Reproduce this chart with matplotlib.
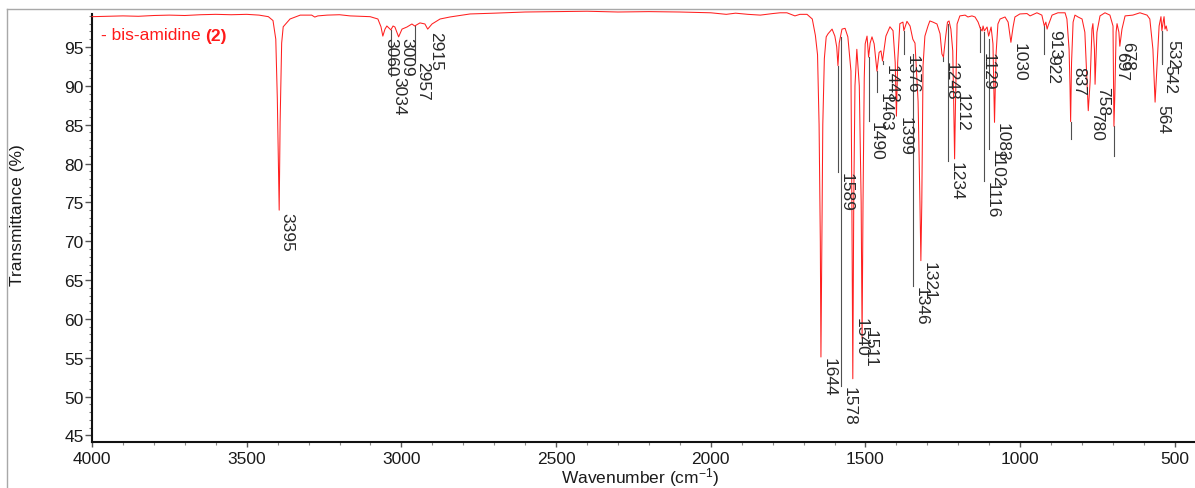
import matplotlib
matplotlib.use("Agg")
import matplotlib.pyplot as plt
from matplotlib.ticker import MultipleLocator
from matplotlib.lines import Line2D
from matplotlib.transforms import offset_copy

plt.rcParams['font.family'] = ['Liberation Sans', 'DejaVu Sans']
plt.rcParams['mathtext.default'] = 'regular'

# spectrum: (wavenumber cm-1, transmittance %)
trace_high = [
    (4000, 98.9), (3950, 98.95), (3900, 99.0), (3850, 98.95), (3800, 99.05), (3750, 99.1),
    (3700, 99.05), (3650, 99.15), (3600, 99.2), (3550, 99.15), (3500, 99.2), (3460, 99.1),
    (3430, 98.9), (3415, 98.4), (3406, 96.0), (3401, 88.3), (3395, 74.0), (3392, 85.3),
    (3387, 95.5), (3382, 97.6), (3360, 98.6), (3327, 99.1), (3290, 99.1), (3280, 98.85),
    (3270, 99.0), (3240, 99.1), (3200, 99.15), (3166, 99.0), (3101, 98.9), (3076, 98.6),
    (3066, 97.6), (3060, 96.4), (3053, 97.3), (3047, 97.7), (3034, 97.2), (3027, 97.7),
    (3021, 97.57), (3009, 96.3), (2998, 97.3), (2982, 97.57), (2966, 97.96), (2957, 97.7),
    (2940, 98.1), (2924, 97.96), (2915, 97.3), (2901, 97.96), (2875, 98.6), (2843, 98.86),
    (2778, 99.25),
]
trace_mid = [
    (2700, 99.35), (2600, 99.5), (2500, 99.55), (2400, 99.6), (2300, 99.5), (2200, 99.55),
    (2100, 99.5), (2000, 99.4), (1950, 99.2), (1920, 99.35), (1880, 99.2), (1840, 99.1),
    (1800, 99.3), (1776, 99.4), (1754, 99.4), (1728, 99.0), (1712, 99.2), (1689, 99.2),
]
trace_fingerprint = [
    (1672, 98.6), (1662, 96.5), (1655, 94.0), (1650, 85.0), (1646, 70.0), (1644, 55.1),
    (1641, 70.0), (1638, 85.0), (1633, 93.5), (1627, 96.3), (1621, 96.7), (1608, 97.3),
    (1599, 96.4), (1593, 95.0), (1589, 92.6), (1585, 95.5), (1576, 97.3), (1566, 97.4),
    (1557, 96.3), (1547, 91.9), (1544, 75.0), (1541, 52.3), (1538, 75.0), (1534, 90.0),
    (1528, 94.7), (1520, 90.0), (1514, 75.0), (1511, 57.5), (1508, 75.0), (1504, 91.0),
    (1501, 95.4), (1495, 96.4), (1490, 93.7), (1485, 95.5), (1479, 96.3), (1472, 95.4),
    (1463, 91.9), (1456, 94.3), (1450, 94.5), (1445, 93.2), (1434, 96.4), (1421, 97.6),
    (1411, 97.1), (1404, 93.0), (1400, 86.1), (1396, 93.0), (1389, 98.0), (1379, 98.2),
    (1376, 97.1), (1366, 98.3), (1356, 97.7), (1347, 96.0), (1340, 95.5), (1330, 88.0),
    (1324, 75.0), (1321, 67.5), (1318, 75.0), (1314, 92.6), (1308, 96.4), (1298, 97.7),
]
trace_low = [
    (1292, 98.35), (1282, 98.2), (1269, 97.96), (1259, 96.7), (1253, 94.1), (1248, 93.7),
    (1241, 96.3), (1235, 98.2), (1230, 98.35), (1224, 97.3), (1218, 94.5), (1215, 88.0),
    (1212, 80.6), (1209, 88.0), (1204, 97.96), (1195, 99.0), (1178, 99.1), (1169, 98.86),
    (1156, 99.0), (1146, 98.86), (1136, 98.2), (1129, 97.4), (1123, 97.06), (1120, 97.7),
    (1116, 97.06), (1107, 97.57), (1102, 96.4), (1094, 97.57), (1088, 95.4), (1083, 85.3),
    (1078, 94.1), (1072, 97.96), (1065, 98.6), (1049, 98.86), (1039, 98.2), (1030, 95.6),
    (1023, 97.57), (1017, 98.86), (1001, 99.25), (978, 99.3), (968, 99.0), (946, 99.4),
    (930, 99.1), (922, 97.7), (917, 98.2), (913, 97.3), (910, 97.7), (897, 99.1),
    (878, 99.4), (855, 99.4), (849, 98.6), (842, 94.7), (839, 90.0), (837, 85.4),
    (834, 93.0), (829, 98.2), (823, 99.1), (813, 98.86), (800, 98.6), (791, 96.9),
    (784, 90.5), (780, 86.8), (774, 90.5), (768, 97.3), (765, 98.0), (760, 94.7),
    (758, 90.2), (752, 96.9), (742, 99.0), (726, 99.4), (710, 99.1), (700, 97.7),
    (697, 84.8), (694, 89.0), (690, 96.9), (687, 98.0), (681, 96.9), (678, 95.1),
    (671, 97.3), (661, 99.0), (636, 99.1), (613, 99.4), (590, 99.1), (581, 98.6),
    (571, 94.7), (564, 87.9), (558, 92.5), (551, 97.7), (545, 98.9), (542, 97.1),
    (538, 98.2), (535, 98.9), (532, 97.3), (528, 97.7), (525, 97.1),
]

# peak labels: wavenumber, where the leader starts (T), where the text starts (T)
peak_labels = [3395, 3060, 3034, 3009, 2957, 2915,
               1644, 1589, 1578, 1540, 1511, 1490, 1463, 1443, 1399, 1376, 1346, 1321,
               1248, 1234, 1212, 1129, 1116, 1102, 1083, 1030,
               922, 913, 837, 780, 758, 697, 678, 564, 542, 532]
leader_start = [74.0, 96.4, 97.2, 96.3, 97.7, 97.3,
                55.1, 92.6, 96.3, 60.25, 58.7, 93.7, 91.9, 93.2, 86.1, 97.1, 94.1, 67.5,
                93.7, 97.96, 89.2, 97.57, 96.93, 96.03, 85.35, 95.64,
                97.7, 97.3, 85.35, 86.76, 89.98, 84.83, 95.13, 87.66, 97.06, 96.03]
text_top = [73.8, 96.3, 91.3, 96.3, 93.2, 97.06,
            55.1, 78.9, 51.4, 60.25, 58.7, 85.5, 89.2, 92.8, 86.1, 94.1, 64.2, 67.5,
            93.2, 80.3, 89.2, 94.4, 77.75, 81.9, 85.35, 95.64,
            94.1, 97.3, 92.55, 86.76, 89.98, 94.5, 95.77, 87.66, 92.8, 96.03]
# a few leaders run below the label, as in the source
extra_leaders = [(837, 85.35, 83.16), (697, 84.83, 80.97), (542, 97.06, 93.07)]


def plot_spectrum(fig, ax):
    trace = trace_high + trace_mid + trace_fingerprint + trace_low
    wn = [p[0] for p in trace]
    tr = [p[1] for p in trace]
    ax.plot(wn, tr, color='#ff2020', lw=0.75, clip_on=False, zorder=3)

    txt_trans = offset_copy(ax.transData, fig=fig, x=0.5, y=0, units='dots')
    for lab, start, top in zip(peak_labels, leader_start, text_top):
        if start - top > 0.3:
            ax.plot([lab, lab], [start, top], color='#505050', lw=0.8, zorder=2)
        ax.text(lab, top, str(lab), rotation=-90, ha='left', va='top',
                fontsize=12.5, color='#2a2a2a', transform=txt_trans, zorder=4)
    for lab, y0, y1 in extra_leaders:
        ax.plot([lab, lab], [y0, y1], color='#505050', lw=0.8, zorder=2)


def main():
    W, H = 1195, 489
    fig = plt.figure(figsize=(W / 100, H / 100), dpi=100)
    ax = fig.add_axes([92 / W, 1 - 443 / H, (W - 92) / W, (443 - 12) / H])

    plot_spectrum(fig, ax)

    ax.set_xlim(4000, 435)
    ax.set_ylim(44.16, 99.63)
    ax.xaxis.set_major_locator(MultipleLocator(500))
    ax.xaxis.set_minor_locator(MultipleLocator(100))
    ax.yaxis.set_major_locator(MultipleLocator(5))
    ax.yaxis.set_minor_locator(MultipleLocator(1))
    ax.set_yticks(range(45, 100, 5))

    for s in ['top', 'right']:
        ax.spines[s].set_visible(False)
    for s in ['left', 'bottom']:
        ax.spines[s].set_linewidth(1.5)
        ax.spines[s].set_color('#111111')
    ax.spines['left'].set_bounds(44.16, 99.25)

    ax.tick_params(axis='y', which='major', direction='out', length=5, width=1,
                   color='#555555', labelsize=12.5, pad=1, labelcolor='#1a1a1a')
    ax.tick_params(axis='y', which='minor', direction='out', length=2.5, width=0.8,
                   color='#777777')
    ax.tick_params(axis='x', which='major', direction='out', length=3.5, width=1,
                   color='#555555', labelsize=12.5, pad=3, labelcolor='#1a1a1a')
    ax.tick_params(axis='x', which='minor', direction='out', length=2, width=0.8,
                   color='#888888')

    fig.text(640 / W, 1 - 478 / H, 'Wavenumber (cm$^{-1}$)', ha='center', va='center',
             fontsize=12.5, color='#1a1a1a')
    fig.text(18 / W, 1 - 215 / H, 'Transmittance (%)', rotation=90, ha='center',
             va='center', fontsize=12.5, color='#1a1a1a')

    t = fig.text(101 / W, 1 - 36 / H, '- bis-amidine ', color='#ff1a1a', ha='left',
                 va='center', fontsize=12.5)
    ax.annotate('(2)', xy=(1, 0.5), xycoords=t, ha='left', va='center', color='#ff1a1a',
                fontsize=12.5, fontweight='bold', annotation_clip=False)

    # screenshot border
    fig.add_artist(Line2D([7 / W, 1], [1 - 10 / H, 1 - 10 / H], color='#a8a8a8', lw=1,
                          transform=fig.transFigure))
    fig.add_artist(Line2D([7 / W, 7 / W], [0, 1 - 10 / H], color='#a8a8a8', lw=1,
                          transform=fig.transFigure))

    fig.savefig('out.png', dpi=100)
    plt.close(fig)


if __name__ == "__main__":
    main()
